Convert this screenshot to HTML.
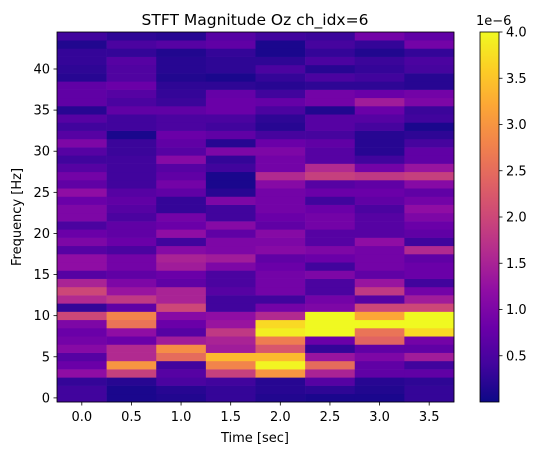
<!DOCTYPE html>
<html><head><meta charset="utf-8"><style>
body{margin:0;background:#fff;}
svg text{font-family:"DejaVu Sans","Liberation Sans",sans-serif;font-size:13px;fill:#000;}
</style></head><body>
<svg id="chart" width="538" height="455" xmlns="http://www.w3.org/2000/svg">
<text x="255" y="25" text-anchor="middle" style="font-size:15.5px">STFT Magnitude Oz ch_idx=6</text>
<g id="cells"></g>
<rect x="57" y="32" width="397" height="370" fill="none" stroke="#000" stroke-width="0.8"/>
<g id="xticks"></g>
<g id="yticks"></g>
<text x="255" y="442" text-anchor="middle">Time [sec]</text>
<text transform="translate(21,217) rotate(-90)" text-anchor="middle">Frequency [Hz]</text>
<defs><linearGradient id="cbg" x1="0" y1="1" x2="0" y2="0"></linearGradient></defs>
<rect x="480" y="32" width="19" height="370" fill="url(#cbg)" stroke="#000" stroke-width="0.8"/>
<g id="cbticks"></g>
<text x="476" y="25">1e−6</text>
</svg>
<script>
const times=[0,0.5,1.0,1.5,2.0,2.5,3.0,3.5];
const xTickLabels=["0.0","0.5","1.0","1.5","2.0","2.5","3.0","3.5"];
const yTickValues=[0,5,10,15,20,25,30,35,40];
const cbTickValues=[0.5,1.0,1.5,2.0,2.5,3.0,3.5,4.0];
const magnitudes=[
[0.4,0.1,0.15,0.3,0.15,0.1,0.1,0.3],
[0.4,0.1,0.2,0.3,0.2,0.25,0.15,0.3],
[0.3,0.2,0.5,0.4,0.2,0.6,0.2,0.25],
[1.2,1.9,0.6,1.9,3.0,1.5,0.7,0.7],
[0.8,3.0,0.4,2.8,3.95,2.5,0.7,0.4],
[0.6,1.6,2.5,3.4,3.4,1.3,1.0,1.4],
[1.1,1.6,2.9,1.4,2.2,0.3,0.7,0.7],
[0.9,0.8,1.4,1.5,2.7,0.8,2.4,0.9],
[0.8,1.2,0.6,1.8,3.9,4.0,2.6,3.7],
[1.0,2.6,0.8,1.3,3.7,4.0,4.0,4.0],
[2.0,2.8,1.1,1.2,1.6,4.0,3.2,4.0],
[0.3,0.7,2.0,0.4,0.9,1.0,2.0,2.0],
[1.6,1.8,1.5,0.4,0.4,0.9,0.6,1.4],
[2.0,1.3,1.5,0.6,0.9,0.5,1.8,0.9],
[1.5,1.0,0.7,0.5,0.9,0.5,1.3,0.4],
[0.6,0.7,0.8,0.5,0.9,1.0,0.7,0.8],
[1.2,0.9,1.4,1.0,0.8,0.4,0.9,0.8],
[1.2,0.9,1.5,1.4,0.7,0.8,0.9,0.7],
[0.6,0.5,1.1,1.0,1.1,1.0,0.9,1.6],
[1.0,0.8,0.4,1.0,1.0,0.6,1.2,0.4],
[0.8,0.7,1.2,0.7,1.1,0.6,0.6,0.7],
[0.5,0.7,0.8,1.1,0.7,0.9,0.6,0.8],
[1.0,0.5,0.9,0.4,0.8,0.9,0.6,1.0],
[1.0,0.6,0.3,0.4,0.9,0.8,0.5,1.2],
[0.8,0.7,0.3,1.0,0.9,0.4,0.7,0.9],
[1.2,0.6,0.7,0.2,0.9,0.8,0.8,0.7],
[0.7,0.4,0.9,0.1,1.1,0.6,0.7,1.1],
[0.9,0.4,0.7,0.1,1.6,1.9,1.8,1.9],
[0.6,0.4,0.6,0.4,0.9,1.6,0.9,1.3],
[0.4,0.4,1.1,0.3,0.9,0.6,0.4,0.7],
[0.6,0.35,0.6,1.0,1.0,0.6,0.2,0.7],
[1.0,0.35,0.7,0.2,0.8,0.7,0.2,0.45],
[0.6,0.1,0.8,0.7,0.45,0.45,0.2,0.25],
[0.4,0.4,0.5,0.4,0.2,0.6,0.45,0.1],
[0.6,0.4,0.5,0.5,0.25,0.6,0.6,0.4],
[0.2,0.7,0.7,0.8,0.5,0.15,0.8,0.35],
[0.7,0.5,0.35,0.8,0.75,0.9,1.4,1.0],
[0.7,0.6,0.3,0.75,0.4,0.9,0.8,0.9],
[0.7,0.8,0.25,0.25,0.2,0.25,0.25,0.2],
[0.2,0.55,0.15,0.1,0.3,0.5,0.4,0.2],
[0.25,0.55,0.2,0.25,0.5,0.2,0.3,0.45],
[0.3,0.6,0.2,0.25,0.25,0.5,0.35,0.5],
[0.3,0.3,0.15,0.3,0.1,0.3,0.15,0.3],
[0.15,0.5,0.6,0.7,0.1,0.45,0.3,0.9],
[0.4,0.25,0.2,0.6,0.4,0.35,0.9,0.7]
];
const vmin=0,vmax=4.0;
const plasma=["#0d0887","#41049d","#6a00a8","#8f0da4","#b12a90","#cc4778","#e16462","#f2844b","#fca636","#fcce25","#f0f921"];
function hex(h){return [1,3,5].map(i=>parseInt(h.substr(i,2),16));}
function cmap(v){let t=Math.max(0,Math.min(1,(v-vmin)/(vmax-vmin)))*10;let i=Math.min(9,Math.floor(t)),f=t-i;
 const a=hex(plasma[i]),b=hex(plasma[i+1]);return "rgb("+a.map((c,k)=>Math.round(c+(b[k]-c)*f)).join(",")+")";}
const X0=57,X1=454,Y0=402,Y1=32;
const nF=magnitudes.length;
const xScale=t=>X0+(t+0.25)/4.0*(X1-X0);
const yScale=f=>Y0-(f+0.5)/nF*(Y0-Y1);
const NS="http://www.w3.org/2000/svg";
function mk(tag,attrs,parent){const e=document.createElementNS(NS,tag);for(const k in attrs)e.setAttribute(k,attrs[k]);parent.appendChild(e);return e;}
const cells=document.getElementById('cells');
magnitudes.forEach((row,f)=>row.forEach((v,c)=>{
 const x=xScale(times[c]-0.25),x2=xScale(times[c]+0.25),y=yScale(f+0.5),y2=yScale(f-0.5);
 const r=mk('rect',{x:x,y:y,width:x2-x+0.3,height:y2-y+0.3,fill:cmap(v)},cells);
 
 
}));
const xt=document.getElementById('xticks');
times.forEach((t,i)=>{const x=xScale(t);
 const l=mk('line',{x1:x,x2:x,y1:Y0,y2:Y0+3.5,stroke:'#000','stroke-width':0.8},xt);
 
 
 const tx=mk('text',{x:x,y:Y0+19,'text-anchor':'middle'},xt);
 tx.textContent=xTickLabels[i];
 
 
});
const yt=document.getElementById('yticks');
yTickValues.forEach(v=>{const yy=yScale(v);
 const l=mk('line',{x1:X0-3.5,x2:X0,y1:yy,y2:yy,stroke:'#000','stroke-width':0.8},yt);
 
 
 const tx=mk('text',{x:X0-7,y:yy+4.5,'text-anchor':'end'},yt);
 tx.textContent=String(v);
 
 
});
const g=document.getElementById('cbg');
plasma.forEach((c,i)=>mk('stop',{offset:(i*10)+'%','stop-color':c},g));
const cb=document.getElementById('cbticks');
const cbY=v=>Y0-(v-vmin)/(vmax-vmin)*(Y0-Y1);
cbTickValues.forEach(v=>{const y=cbY(v);
 const l=mk('line',{x1:499,x2:502.5,y1:y,y2:y,stroke:'#000','stroke-width':0.8},cb);
 
 
 const tx=mk('text',{x:506,y:y+4.5},cb);
 tx.textContent=v.toFixed(1);
 
 
});
</script>
</body></html>
